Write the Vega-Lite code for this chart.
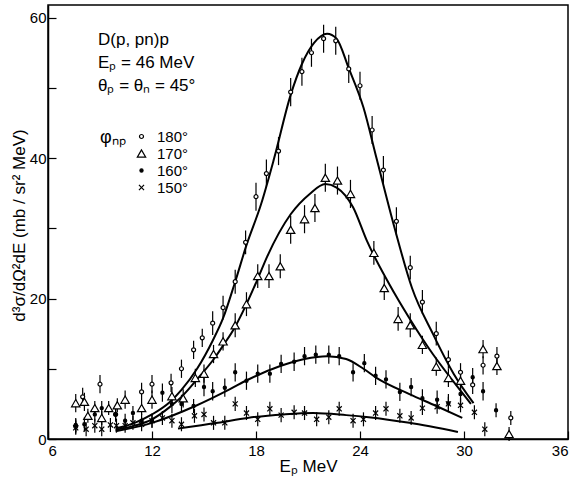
{
"$schema":"https://vega.github.io/schema/vega-lite/v6.json",
"width":520,"height":434,
"autosize":{"type":"none"},
"padding":{"left":48,"top":5,"right":4,"bottom":42},
"background":"white",
"title":{"text":["D(p, pn)p","Eₚ = 46 MeV","θₚ = θₙ = 45°"],"anchor":"start","frame":"group","orient":"top","offset":0,"dx":50,"dy":90,"baseline":"top","fontSize":17,"fontWeight":"normal","lineHeight":23,"color":"black"},
"datasets":{
"pts":[
{"s":"180°","x":7.6,"y":1.8,"e":1.0},{"s":"180°","x":8.0,"y":6.0,"e":1.3},{"s":"180°","x":9.0,"y":7.8,"e":1.3},{"s":"180°","x":9.9,"y":3.5,"e":1.0},{"s":"180°","x":11.4,"y":6.7,"e":1.3},{"s":"180°","x":12.0,"y":7.8,"e":1.3},{"s":"180°","x":13.1,"y":8.0,"e":1.3},{"s":"180°","x":13.7,"y":10.0,"e":1.3},{"s":"180°","x":14.4,"y":12.7,"e":1.3},{"s":"180°","x":14.9,"y":14.4,"e":1.3},{"s":"180°","x":15.5,"y":16.5,"e":1.7},{"s":"180°","x":16.1,"y":18.7,"e":1.7},{"s":"180°","x":16.8,"y":22.4,"e":1.7},{"s":"180°","x":17.4,"y":28.0,"e":1.7},{"s":"180°","x":18.0,"y":34.5,"e":2.0},{"s":"180°","x":18.6,"y":37.8,"e":2.0},{"s":"180°","x":19.3,"y":41.0,"e":2.0},{"s":"180°","x":20.0,"y":49.4,"e":2.0},{"s":"180°","x":20.65,"y":52.3,"e":2.0},{"s":"180°","x":21.2,"y":55.0,"e":2.0},{"s":"180°","x":21.9,"y":57.0,"e":2.0},{"s":"180°","x":22.6,"y":56.7,"e":2.0},{"s":"180°","x":23.35,"y":52.7,"e":2.0},{"s":"180°","x":24.0,"y":50.3,"e":2.0},{"s":"180°","x":24.7,"y":44.0,"e":2.0},{"s":"180°","x":25.35,"y":38.3,"e":2.0},{"s":"180°","x":26.1,"y":31.0,"e":2.0},{"s":"180°","x":26.9,"y":24.4,"e":1.7},{"s":"180°","x":27.6,"y":19.5,"e":1.7},{"s":"180°","x":28.4,"y":15.0,"e":1.7},{"s":"180°","x":29.1,"y":11.3,"e":1.3},{"s":"180°","x":29.8,"y":9.5,"e":1.3},{"s":"180°","x":30.5,"y":7.7,"e":1.3},{"s":"180°","x":31.1,"y":10.5,"e":1.3},{"s":"180°","x":31.9,"y":11.8,"e":1.3},{"s":"180°","x":32.7,"y":3.0,"e":1.0},
{"s":"170°","x":7.6,"y":5.1,"e":1.3},{"s":"170°","x":8.1,"y":5.3,"e":1.3},{"s":"170°","x":8.3,"y":3.3,"e":1.0},{"s":"170°","x":8.7,"y":4.4,"e":1.0},{"s":"170°","x":9.1,"y":3.0,"e":1.0},{"s":"170°","x":9.5,"y":4.4,"e":1.0},{"s":"170°","x":10.0,"y":4.8,"e":1.0},{"s":"170°","x":10.45,"y":5.6,"e":1.3},{"s":"170°","x":11.4,"y":4.4,"e":1.0},{"s":"170°","x":12.0,"y":5.6,"e":1.3},{"s":"170°","x":13.15,"y":6.1,"e":1.3},{"s":"170°","x":13.8,"y":5.8,"e":1.3},{"s":"170°","x":14.5,"y":8.7,"e":1.3},{"s":"170°","x":15.0,"y":9.3,"e":1.3},{"s":"170°","x":15.55,"y":12.1,"e":1.3},{"s":"170°","x":16.1,"y":13.9,"e":1.3},{"s":"170°","x":16.8,"y":16.2,"e":1.7},{"s":"170°","x":17.45,"y":19.2,"e":1.7},{"s":"170°","x":18.1,"y":23.2,"e":1.7},{"s":"170°","x":18.75,"y":23.2,"e":1.7},{"s":"170°","x":19.4,"y":24.6,"e":1.7},{"s":"170°","x":20.0,"y":29.8,"e":2.0},{"s":"170°","x":20.8,"y":31.3,"e":2.0},{"s":"170°","x":21.4,"y":32.9,"e":2.0},{"s":"170°","x":22.0,"y":37.2,"e":2.0},{"s":"170°","x":22.7,"y":36.8,"e":2.0},{"s":"170°","x":23.45,"y":34.9,"e":2.0},{"s":"170°","x":24.8,"y":26.5,"e":1.7},{"s":"170°","x":25.4,"y":21.5,"e":1.7},{"s":"170°","x":26.2,"y":17.1,"e":1.7},{"s":"170°","x":26.9,"y":16.2,"e":1.7},{"s":"170°","x":27.6,"y":13.4,"e":1.3},{"s":"170°","x":28.4,"y":10.3,"e":1.3},{"s":"170°","x":29.1,"y":8.7,"e":1.3},{"s":"170°","x":29.8,"y":8.3,"e":1.3},{"s":"170°","x":31.1,"y":12.8,"e":1.3},{"s":"170°","x":31.9,"y":10.4,"e":1.3},{"s":"170°","x":32.6,"y":0.7,"e":1.0},
{"s":"160°","x":7.6,"y":2.0,"e":1.0},{"s":"160°","x":8.1,"y":2.1,"e":1.0},{"s":"160°","x":8.7,"y":3.5,"e":1.0},{"s":"160°","x":9.1,"y":4.4,"e":1.0},{"s":"160°","x":9.9,"y":3.5,"e":1.0},{"s":"160°","x":10.45,"y":2.6,"e":1.0},{"s":"160°","x":10.9,"y":3.7,"e":1.0},{"s":"160°","x":11.4,"y":2.6,"e":1.0},{"s":"160°","x":12.0,"y":2.6,"e":1.0},{"s":"160°","x":12.6,"y":6.6,"e":1.3},{"s":"160°","x":13.15,"y":5.0,"e":1.3},{"s":"160°","x":13.7,"y":5.0,"e":1.3},{"s":"160°","x":14.4,"y":4.7,"e":1.0},{"s":"160°","x":15.0,"y":7.4,"e":1.3},{"s":"160°","x":15.5,"y":6.8,"e":1.3},{"s":"160°","x":16.2,"y":7.3,"e":1.3},{"s":"160°","x":16.8,"y":9.5,"e":1.3},{"s":"160°","x":17.45,"y":8.3,"e":1.3},{"s":"160°","x":18.1,"y":9.3,"e":1.3},{"s":"160°","x":18.8,"y":9.3,"e":1.3},{"s":"160°","x":19.45,"y":10.7,"e":1.3},{"s":"160°","x":20.2,"y":11.0,"e":1.3},{"s":"160°","x":20.8,"y":11.8,"e":1.3},{"s":"160°","x":21.45,"y":12.0,"e":1.3},{"s":"160°","x":22.2,"y":12.0,"e":1.3},{"s":"160°","x":22.8,"y":11.8,"e":1.3},{"s":"160°","x":23.6,"y":9.5,"e":1.3},{"s":"160°","x":24.25,"y":10.8,"e":1.3},{"s":"160°","x":24.9,"y":9.0,"e":1.3},{"s":"160°","x":25.5,"y":8.5,"e":1.3},{"s":"160°","x":26.3,"y":6.7,"e":1.3},{"s":"160°","x":26.95,"y":7.4,"e":1.3},{"s":"160°","x":27.6,"y":5.8,"e":1.3},{"s":"160°","x":28.45,"y":5.6,"e":1.3},{"s":"160°","x":29.1,"y":5.1,"e":1.3},{"s":"160°","x":29.8,"y":6.4,"e":1.3},{"s":"160°","x":30.5,"y":8.8,"e":1.3},{"s":"160°","x":31.1,"y":6.8,"e":1.3},{"s":"160°","x":31.85,"y":4.1,"e":1.0},
{"s":"150°","x":7.6,"y":1.6,"e":1.0},{"s":"150°","x":8.2,"y":1.4,"e":1.0},{"s":"150°","x":8.7,"y":1.9,"e":1.0},{"s":"150°","x":9.1,"y":1.4,"e":1.0},{"s":"150°","x":9.6,"y":2.0,"e":1.0},{"s":"150°","x":9.95,"y":1.9,"e":1.0},{"s":"150°","x":10.45,"y":1.9,"e":1.0},{"s":"150°","x":10.9,"y":2.3,"e":1.0},{"s":"150°","x":11.4,"y":2.1,"e":1.0},{"s":"150°","x":12.0,"y":2.6,"e":1.0},{"s":"150°","x":12.6,"y":3.0,"e":1.0},{"s":"150°","x":13.15,"y":2.6,"e":1.0},{"s":"150°","x":13.7,"y":2.1,"e":1.0},{"s":"150°","x":14.45,"y":3.3,"e":1.0},{"s":"150°","x":15.0,"y":3.5,"e":1.0},{"s":"150°","x":15.55,"y":2.3,"e":1.0},{"s":"150°","x":16.2,"y":2.3,"e":1.0},{"s":"150°","x":16.8,"y":5.0,"e":1.0},{"s":"150°","x":17.45,"y":3.7,"e":1.0},{"s":"150°","x":18.1,"y":2.8,"e":1.0},{"s":"150°","x":18.8,"y":4.3,"e":1.0},{"s":"150°","x":19.45,"y":3.4,"e":1.0},{"s":"150°","x":20.2,"y":3.8,"e":1.0},{"s":"150°","x":20.8,"y":3.7,"e":1.0},{"s":"150°","x":21.5,"y":2.8,"e":1.0},{"s":"150°","x":22.2,"y":3.1,"e":1.0},{"s":"150°","x":22.8,"y":4.3,"e":1.0},{"s":"150°","x":23.6,"y":2.6,"e":1.0},{"s":"150°","x":24.2,"y":2.8,"e":1.0},{"s":"150°","x":24.9,"y":3.7,"e":1.0},{"s":"150°","x":25.5,"y":4.3,"e":1.0},{"s":"150°","x":26.3,"y":3.3,"e":1.0},{"s":"150°","x":26.95,"y":3.0,"e":1.0},{"s":"150°","x":27.6,"y":4.4,"e":1.0},{"s":"150°","x":28.45,"y":4.6,"e":1.0},{"s":"150°","x":29.1,"y":5.0,"e":1.0},{"s":"150°","x":29.8,"y":4.8,"e":1.0},{"s":"150°","x":30.6,"y":3.8,"e":1.0},{"s":"150°","x":31.2,"y":1.4,"e":1.0}
],
"curves":[
{"c":"180","x":9.9,"y":1.5},{"c":"180","x":11,"y":2.3},{"c":"180","x":12,"y":3.5},{"c":"180","x":13,"y":5.2},{"c":"180","x":13.7,"y":7},{"c":"180","x":14.6,"y":10},{"c":"180","x":15.5,"y":14},{"c":"180","x":16.1,"y":17.2},{"c":"180","x":16.8,"y":22.4},{"c":"180","x":17.45,"y":27.6},{"c":"180","x":18.3,"y":33.5},{"c":"180","x":19.05,"y":40},{"c":"180","x":20,"y":49},{"c":"180","x":20.65,"y":53.4},{"c":"180","x":21.35,"y":56.4},{"c":"180","x":22.1,"y":57.7},{"c":"180","x":22.65,"y":57},{"c":"180","x":23.35,"y":52.8},{"c":"180","x":24.2,"y":47.2},{"c":"180","x":24.95,"y":40},{"c":"180","x":26,"y":30},{"c":"180","x":27,"y":21.5},{"c":"180","x":28.2,"y":15},{"c":"180","x":29.4,"y":9.3},{"c":"180","x":30.55,"y":5.1},
{"c":"170","x":9.9,"y":1.3},{"c":"170","x":11,"y":1.9},{"c":"170","x":12,"y":2.8},{"c":"170","x":13,"y":4.5},{"c":"170","x":13.7,"y":6},{"c":"170","x":14.6,"y":8.5},{"c":"170","x":15.6,"y":11.5},{"c":"170","x":16.1,"y":13.3},{"c":"170","x":16.8,"y":16.0},{"c":"170","x":17.45,"y":19.2},{"c":"170","x":18.1,"y":22.8},{"c":"170","x":18.65,"y":26},{"c":"170","x":20,"y":32},{"c":"170","x":21.1,"y":34.9},{"c":"170","x":22,"y":36.3},{"c":"170","x":22.65,"y":35.8},{"c":"170","x":23.6,"y":33},{"c":"170","x":24.4,"y":28.2},{"c":"170","x":25.7,"y":22},{"c":"170","x":26.85,"y":17.2},{"c":"170","x":28.2,"y":12.1},{"c":"170","x":29.35,"y":8.3},{"c":"170","x":30.4,"y":5},
{"c":"160","x":9.9,"y":1.1},{"c":"160","x":12,"y":2.3},{"c":"160","x":14.5,"y":4.7},{"c":"160","x":16.5,"y":7.1},{"c":"160","x":17.5,"y":8.4},{"c":"160","x":19.4,"y":10.4},{"c":"160","x":20.8,"y":11.4},{"c":"160","x":22.1,"y":11.8},{"c":"160","x":23.2,"y":11.4},{"c":"160","x":24.2,"y":10.0},{"c":"160","x":24.95,"y":8.7},{"c":"160","x":26.85,"y":6.4},{"c":"160","x":28.4,"y":4.7},{"c":"160","x":29.9,"y":3.0},
{"c":"150","x":13.5,"y":1.5},{"c":"150","x":15.8,"y":2.3},{"c":"150","x":17.5,"y":3.0},{"c":"150","x":19.6,"y":3.5},{"c":"150","x":21.3,"y":3.7},{"c":"150","x":23.2,"y":3.4},{"c":"150","x":24.5,"y":3.1},{"c":"150","x":26.85,"y":2.3},{"c":"150","x":29.65,"y":1.0}
]},
"encoding":{
 "x":{"field":"x","type":"quantitative","scale":{"domain":[6,36],"nice":false,"zero":false},
   "axis":{"values":[6,12,18,24,30,36],"tickSize":-8,"labelPadding":12,"labelFontSize":15,"title":"Eₚ    MeV","titleFontSize":17,"titlePadding":0}},
 "y":{"field":"y","type":"quantitative","scale":{"domain":[0,61.8],"nice":false},
   "axis":{"values":[0,10,20,30,40,50,60],"labelExpr":"datum.value % 20 == 0 ? datum.label : ''","tickSize":-8,"labelPadding":10,"labelFontSize":15,"title":"d³σ/dΩ²dE    (mb / sr² MeV)","titleFontSize":17,"titleX":-29,"titleY":220,"titleAlign":"center","titleBaseline":"middle","titleAngle":270}}
},
"layer":[
{"data":{"name":"curves"},"mark":{"type":"line","color":"black","strokeWidth":2,"interpolate":"monotone"},
 "encoding":{"detail":{"field":"c","type":"nominal"}}},
{"data":{"name":"pts"},"mark":{"type":"errorbar","color":"black","thickness":1.2},
 "encoding":{"yError":{"field":"e"}}},
{"data":{"name":"pts"},"mark":{"type":"point","filled":true,"strokeWidth":1.2,"opacity":1},
 "encoding":{
  "shape":{"field":"s","type":"nominal","scale":{"domain":["180°","170°","160°","150°"],"range":["circle","triangle-up","circle","M-1,-1L1,1M-1,1L1,-1"]},"legend":{"title":"φₙₚ"}},
  "fill":{"field":"s","type":"nominal","scale":{"domain":["180°","170°","160°","150°"],"range":["white","white","black","black"]},"legend":{"title":"φₙₚ"}},
  "stroke":{"field":"s","type":"nominal","scale":{"domain":["180°","170°","160°","150°"],"range":["black","black","black","black"]},"legend":{"title":"φₙₚ"}},
  "size":{"field":"s","type":"nominal","scale":{"type":"ordinal","domain":["180°","170°","160°","150°"],"range":[16,70,10,26]},"legend":{"title":"φₙₚ"}}}}
],
"config":{"view":{"stroke":"black","strokeWidth":1.5},"font":"Liberation Sans",
"axis":{"grid":false,"domainColor":"black","domainWidth":1.5,"tickColor":"black","tickWidth":1.2,"labelColor":"black","titleColor":"black","labelFont":"Liberation Sans","titleFont":"Liberation Sans","titleFontWeight":"normal"},
"legend":{"orient":"none","legendX":52,"legendY":124,"titleOrient":"left","titleAnchor":"start","titleFontSize":18,"titleFontWeight":"normal","titleColor":"black","titleBaseline":"top","labelFontSize":15,"labelColor":"black","symbolStrokeWidth":1.2,"rowPadding":1,"labelOffset":8,"titlePadding":8}}
}
